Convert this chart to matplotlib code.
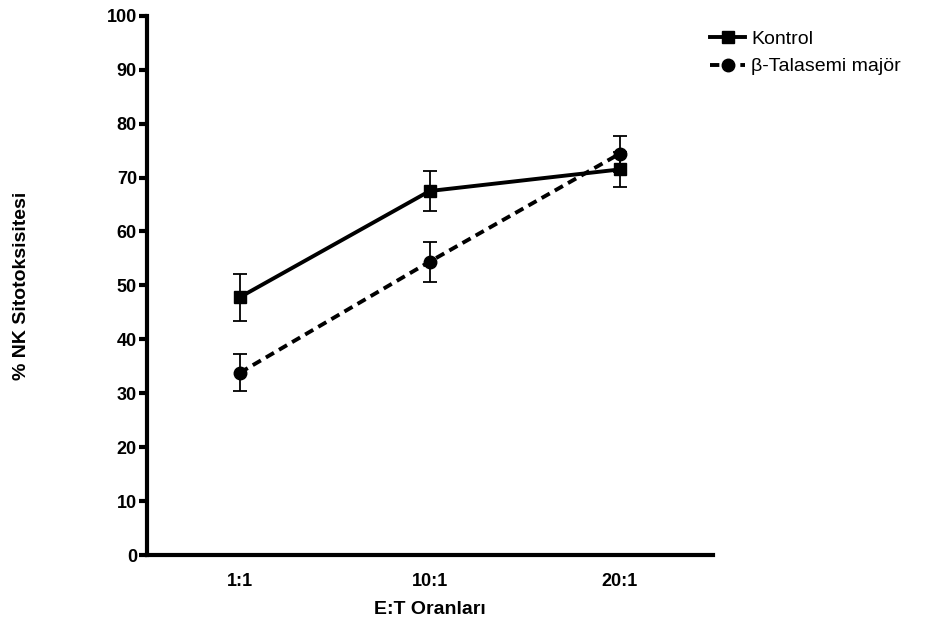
import numpy as np
import matplotlib
matplotlib.use("Agg")
import matplotlib.pyplot as plt

plt.rcParams["font.family"] = ["Liberation Sans", "DejaVu Sans"]

ratios = ["1:1", "10:1", "20:1"]
kontrol_mean = [47.8, 67.5, 71.5]
kontrol_err = [4.4, 3.7, 3.3]
beta_mean = [33.8, 54.4, 74.4]
beta_err = [3.4, 3.7, 3.3]

x = np.arange(len(ratios))

fig = plt.figure(figsize=(9.34, 6.28), dpi=100)
ax = fig.add_axes([0.157, 0.116, 0.606, 0.859])

ax.errorbar(x, kontrol_mean, yerr=kontrol_err, color="black", lw=2.8,
            marker="s", ms=9, capsize=5, elinewidth=1.3, capthick=1.3,
            label="Kontrol")
ax.errorbar(x, beta_mean, yerr=beta_err, color="black", lw=2.8,
            ls=(0, (2.4, 1.5)), marker="o", ms=9, capsize=5,
            elinewidth=1.3, capthick=1.3, label="β-Talasemi majör")

ax.set_xlim(-0.49, 2.49)
ax.set_ylim(0, 100)
ax.set_yticks(np.arange(0, 101, 10))
ax.set_xticks(x)
ax.set_xticklabels(ratios)

for side in ["top", "right"]:
    ax.spines[side].set_visible(False)
for side in ["left", "bottom"]:
    ax.spines[side].set_linewidth(3)

ax.tick_params(axis="y", length=6, width=3, labelsize=13, pad=1)
ax.tick_params(axis="x", length=0, labelsize=13, pad=13)
for lbl in ax.get_xticklabels() + ax.get_yticklabels():
    lbl.set_fontweight("bold")

ax.set_xlabel("E:T Oranları", fontsize=14, fontweight="bold", labelpad=8)
ax.set_ylabel("% NK Sitotoksisitesi", fontsize=14, fontweight="bold", labelpad=55)

handles, labels = ax.get_legend_handles_labels()
handles = [h[0] for h in handles]
ax.legend(handles, labels, loc="upper left", bbox_to_anchor=(0.965, 1.005),
          frameon=False, fontsize=14, handlelength=1.8, handletextpad=0.3,
          labelspacing=0.5)

fig.savefig("out.png", dpi=100)
